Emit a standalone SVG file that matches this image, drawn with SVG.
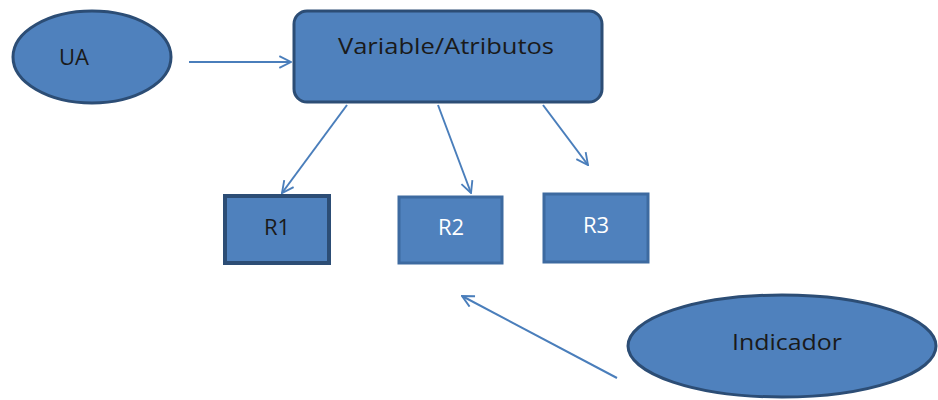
<svg xmlns="http://www.w3.org/2000/svg" width="938" height="400" viewBox="0 0 938 400">
<style>
.node{fill:#4f81bd;stroke:#2c4d75;stroke-width:3}
.lbl{font-family:"Open Sans","Liberation Sans",sans-serif;font-size:22px;fill:#1a1a1a;text-anchor:middle}
.wl{fill:#ffffff}
.edge{stroke:#4a7ebb;stroke-width:2;fill:none;marker-end:url(#arr)}
</style>
<defs>
<marker id="arr" viewBox="0 0 12 12" refX="11" refY="6" markerWidth="14" markerHeight="14" orient="auto" markerUnits="userSpaceOnUse">
<path d="M1,1 L11,6 L1,11" fill="none" stroke="#4a7ebb" stroke-width="1.6"/>
</marker>
</defs>
<rect width="938" height="400" fill="#ffffff"/>
<g id="connectors">
<line class="edge" x1="189" y1="62" x2="291" y2="62"/>
<line class="edge" x1="347" y1="105" x2="282" y2="193"/>
<line class="edge" x1="438" y1="105" x2="471" y2="193"/>
<line class="edge" x1="543" y1="105" x2="588" y2="165"/>
<line class="edge" x1="617" y1="378" x2="462" y2="296"/>
</g>
<g id="UA">
<ellipse class="node" cx="92" cy="57" rx="79" ry="46"/>
<text class="lbl" x="74" y="65">UA</text>
</g>
<g id="Variable">
<rect class="node" x="294" y="11" width="308" height="91" rx="13"/>
<text class="lbl" x="446" y="54" textLength="216" lengthAdjust="spacingAndGlyphs">Variable/Atributos</text>
</g>
<g id="R1">
<rect class="node" x="225" y="196" width="104" height="67" style="stroke-width:4"/>
<text class="lbl" x="277" y="235">R1</text>
</g>
<g id="R2">
<rect class="node" x="399" y="197" width="103" height="66" style="stroke:#3d6aa0;stroke-width:3"/>
<text class="lbl wl" x="451" y="235">R2</text>
</g>
<g id="R3">
<rect class="node" x="544" y="194" width="104" height="68" style="stroke:#3d6aa0;stroke-width:3"/>
<text class="lbl wl" x="596" y="233">R3</text>
</g>
<g id="Indicador">
<ellipse class="node" cx="782" cy="346" rx="154" ry="51"/>
<text class="lbl" x="787" y="350" textLength="110" lengthAdjust="spacingAndGlyphs">Indicador</text>
</g>
</svg>
